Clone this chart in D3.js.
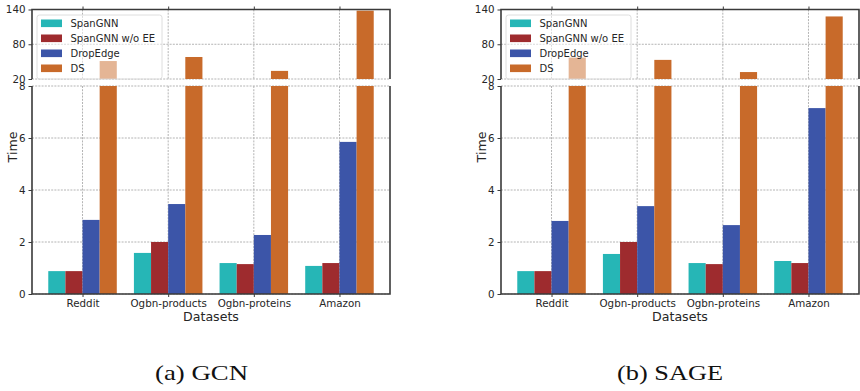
<!DOCTYPE html>
<html><head><meta charset="utf-8">
<script src="https://cdn.jsdelivr.net/npm/d3@7"></script>
<style>
html,body{margin:0;padding:0;background:#fff;}
svg{display:block;}
text{font-family:"DejaVu Sans",sans-serif;}
</style></head>
<body>
<svg id="chart" width="860" height="391"></svg>
<script>
const categories = ["Reddit", "Ogbn-products", "Ogbn-proteins", "Amazon"];
const seriesNames = ["SpanGNN", "SpanGNN w/o EE", "DropEdge", "DS"];
const seriesColors = ["#26b6b6", "#9e2b2e", "#3c55a8", "#c86a2a"];

// GCN panel
const gcnSpanGNN = [0.88, 1.58, 1.19, 1.08];
const gcnSpanGNNwoEE = [0.88, 2.0, 1.15, 1.19];
const gcnDropEdge = [2.85, 3.46, 2.27, 5.85];
const gcnDS = [51, 58, 34, 138];

// SAGE panel
const sageSpanGNN = [0.88, 1.54, 1.19, 1.27];
const sageSpanGNNwoEE = [0.88, 2.0, 1.15, 1.19];
const sageDropEdge = [2.81, 3.38, 2.65, 7.15];
const sageDS = [57, 53, 32, 128];

const topTicks = [20, 80, 140];
const bottomTicks = [0, 2, 4, 6, 8];
const captions = ["(a) GCN", "(b) SAGE"];

const svg = d3.select("#chart");

const panels = [
  {left: 32, right: 390, series: [gcnSpanGNN, gcnSpanGNNwoEE, gcnDropEdge, gcnDS], caption: captions[0], capX: 155, capW: 93},
  {left: 501, right: 859, series: [sageSpanGNN, sageSpanGNNwoEE, sageDropEdge, sageDS], caption: captions[1], capX: 617, capW: 106}
];

const topY0 = 9.5, topY1 = 79, botY0 = 86, botY1 = 294;
const spineColor = "#3a3a3a";
const gridColor = "#b4b4b4";

panels.forEach((p, pi) => {
  const g = svg.append("g");
  const x = d3.scaleLinear().domain([-0.59, 3.59]).range([p.left, p.right]);
  const yTop = d3.scaleLinear().domain([20, 140]).range([topY1, topY0]);
  const yBot = d3.scaleLinear().domain([0, 8]).range([botY1, botY0]);

  const cidT = "clipT" + pi, cidB = "clipB" + pi;
  const defs = g.append("defs");
  defs.append("clipPath").attr("id", cidT).append("rect")
    .attr("x", p.left).attr("y", topY0).attr("width", p.right - p.left).attr("height", topY1 - topY0);
  defs.append("clipPath").attr("id", cidB).append("rect")
    .attr("x", p.left).attr("y", botY0).attr("width", p.right - p.left).attr("height", botY1 - botY0);

  // grids
  const grid = g.append("g").attr("stroke", gridColor).attr("stroke-width", 1).attr("stroke-dasharray", "2,1.2").attr("fill", "none");
  topTicks.forEach(t => grid.append("line").attr("x1", p.left).attr("x2", p.right).attr("y1", yTop(t)).attr("y2", yTop(t)));
  bottomTicks.forEach(t => grid.append("line").attr("x1", p.left).attr("x2", p.right).attr("y1", yBot(t)).attr("y2", yBot(t)));
  categories.forEach((c, i) => {
    grid.append("line").attr("x1", x(i)).attr("x2", x(i)).attr("y1", topY0).attr("y2", topY1);
    grid.append("line").attr("x1", x(i)).attr("x2", x(i)).attr("y1", botY0).attr("y2", botY1);
  });

  // bars
  const bw = 0.2;
  const drawBars = (ys, clip) => {
    const bg = g.append("g").attr("clip-path", `url(#${clip})`);
    p.series.forEach((vals, j) => {
      bg.selectAll(null).data(vals).enter().append("rect")
        .attr("x", (d, i) => x(i + (j - 1.5) * bw - bw / 2))
        .attr("width", (d, i) => x(i + (j - 1.5) * bw + bw / 2) - x(i + (j - 1.5) * bw - bw / 2))
        .attr("y", d => ys(Math.min(d, ys.domain()[1] + 10)))
        .attr("height", d => Math.max(0, ys(ys.domain()[0]) - ys(Math.min(d, ys.domain()[1] + 10))))
        .attr("fill", seriesColors[j]);
    });
  };
  drawBars(yTop, cidT);
  drawBars(yBot, cidB);

  // axes
  const yAxT = g.append("g").attr("transform", `translate(${p.left},0)`)
    .call(d3.axisLeft(yTop).tickValues(topTicks).tickSize(3.5).tickPadding(3).tickFormat(d3.format("d")));
  const yAxB = g.append("g").attr("transform", `translate(${p.left},0)`)
    .call(d3.axisLeft(yBot).tickValues(bottomTicks).tickSize(3.5).tickPadding(3).tickFormat(d3.format("d")));
  const xAxB = g.append("g").attr("transform", `translate(0,${botY1})`)
    .call(d3.axisBottom(x).tickValues([0, 1, 2, 3]).tickSize(3).tickPadding(2.5).tickFormat(i => categories[i]));
  const xAxT = g.append("g").attr("transform", `translate(0,${topY0})`)
    .call(d3.axisTop(x).tickValues([0, 1, 2, 3]).tickSize(3).tickFormat(""));
  [yAxT, yAxB, xAxB, xAxT].forEach(a => {
    a.select(".domain").remove();
    a.selectAll(".tick line").attr("stroke", spineColor).attr("stroke-width", 1);
    a.selectAll(".tick text").attr("fill", "#262626").style("font-size", "10.3px").style("font-family", "DejaVu Sans");
  });

  // spines
  const sp = g.append("g").attr("stroke", spineColor).attr("stroke-width", 1.6).attr("fill", "none");
  sp.append("path").attr("d", `M${p.left},${topY1}V${topY0}H${p.right}V${topY1}`);
  sp.append("path").attr("d", `M${p.left},${botY0}V${botY1}H${p.right}V${botY0}`);

  // legend
  const lg = g.append("g");
  lg.append("rect").attr("x", p.left + 5).attr("y", 15).attr("width", 125).attr("height", 64)
    .attr("rx", 2.5).attr("fill", "#fff").attr("fill-opacity", 0.5)
    .attr("stroke", "#d6d6d6").attr("stroke-width", 0.8);
  seriesNames.forEach((s, j) => {
    const cy = 23.3 + j * 15;
    lg.append("rect").attr("x", p.left + 9).attr("y", cy - 3.8).attr("width", 21).attr("height", 7.6).attr("fill", seriesColors[j]);
    lg.append("text").attr("x", p.left + 38.5).attr("y", cy).attr("dy", "0.36em")
      .style("font-size", "10px").attr("fill", "#262626").text(s);
  });

  // labels
  g.append("text").attr("transform", `translate(${p.left - 20},147) rotate(-90)`)
    .attr("text-anchor", "middle").attr("dy", "0.36em").style("font-size", "12.6px").attr("fill", "#262626").text("Time");
  g.append("text").attr("x", (p.left + p.right) / 2).attr("y", 316).attr("dy", "0.36em")
    .attr("text-anchor", "middle").style("font-size", "12.6px").attr("fill", "#262626").text("Datasets");

  // caption
  g.append("text").attr("x", p.capX).attr("y", 380)
    .style("font-family", "'Liberation Serif', 'DejaVu Serif', serif").style("font-size", "21px")
    .attr("fill", "#111").attr("textLength", p.capW).attr("lengthAdjust", "spacingAndGlyphs").text(p.caption);
});
</script>
</body></html>
